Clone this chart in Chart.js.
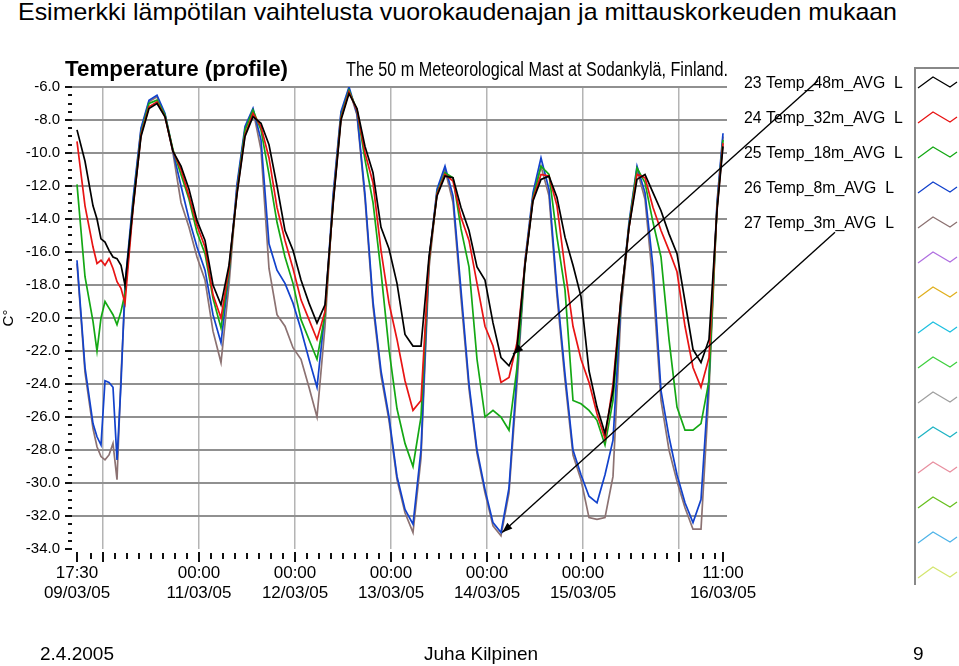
<!DOCTYPE html>
<html>
<head>
<meta charset="utf-8">
<script src="https://cdn.jsdelivr.net/npm/chart.js@4.4.1/dist/chart.umd.min.js"></script>
<style>
  html, body { margin: 0; padding: 0; background: #fff; }
  body { position: relative; width: 959px; height: 666px; overflow: hidden; font-family: 'Liberation Sans', Arial, sans-serif; color: #000; }
  #slideTitle { position: absolute; left: 18px; top: 0; font-size: 24px; line-height: 24px; white-space: nowrap; transform-origin: 0 0; }
  .foot { position: absolute; top: 644px; font-size: 19px; line-height: 19px; white-space: nowrap; }
  canvas { position: absolute; left: 0; top: 0; }
</style>
</head>
<body>
<div id="slideTitle">Esimerkki lämpötilan vaihtelusta vuorokaudenajan ja mittauskorkeuden mukaan</div>
<canvas id="chart" width="959" height="666"></canvas>
<div class="foot" style="left:40px">2.4.2005</div>
<div class="foot" style="left:424px">Juha Kilpinen</div>
<div class="foot" style="left:913px">9</div>
<script>
// hours since 17:30 09/03/05
const hours = [
  0, 2, 4, 5, 6, 7, 8, 9, 10, 11, 12, 14, 16, 18, 20, 22, 24, 26, 28, 30, 32, 34, 36, 38,
  40, 42, 44, 46, 48, 50, 52, 54, 56, 58, 60, 62, 64, 66, 68, 70, 72, 74, 76, 78,
  80, 82, 84, 86, 88, 90, 92, 94, 96, 98, 100, 102, 104, 106, 108, 110, 112, 114, 116, 118,
  120, 122, 124, 126, 128, 130, 132, 134, 136, 138, 140, 142, 144, 146, 148, 150, 152, 154, 156, 158,
  160, 161.5
]

const temp48m = [
  -8.6, -10.5, -13.2, -14.0, -15.2, -15.4, -15.9, -16.3, -16.4, -16.8, -18.0, -13.3, -9.0, -7.3, -7.0, -7.8, -9.9, -10.8, -12.2, -14.1, -15.3, -18.0, -19.2, -16.8,
  -12.5, -9.0, -7.8, -8.2, -9.5, -12.0, -14.7, -15.9, -17.7, -19.1, -20.3, -19.2, -13.2, -8.0, -6.4, -7.3, -9.6, -11.2, -14.5, -15.8,
  -17.9, -21.0, -21.7, -21.7, -16.3, -12.6, -11.4, -11.5, -13.3, -14.7, -16.9, -17.7, -20.3, -22.4, -22.9, -21.8, -16.8, -12.9, -11.6, -11.4,
  -12.7, -15.1, -16.8, -18.7, -23.2, -25.4, -27.0, -24.4, -18.8, -14.5, -11.6, -11.3, -12.4, -13.5, -14.9, -16.1, -19.0, -21.9, -22.7, -21.3,
  -13.5, -9.6
]
const temp32m = [
  -9.3, -13.2, -15.7, -16.7, -16.5, -16.8, -16.4, -17.0, -17.8, -18.2, -19.1, -13.4, -8.9, -7.2, -6.9, -7.8, -9.9, -11.0, -12.6, -14.4, -15.7, -18.6, -20.0, -17.0,
  -12.4, -8.9, -7.6, -8.4, -10.3, -13.3, -15.3, -17.0, -18.9, -20.1, -21.3, -19.6, -13.1, -7.9, -6.3, -7.4, -10.0, -11.8, -15.9, -19.1,
  -21.3, -23.8, -25.6, -25.0, -16.5, -12.5, -11.3, -11.7, -13.9, -15.3, -17.9, -20.5, -21.7, -23.9, -23.6, -21.5, -16.7, -12.8, -11.3, -11.4,
  -13.2, -17.0, -20.5, -22.5, -23.9, -25.8, -27.3, -24.0, -18.8, -14.5, -11.3, -11.5, -13.3, -14.7, -15.9, -17.2, -20.5, -23.0, -24.2, -22.4,
  -13.4, -9.4
]
const temp18m = [
  -11.9, -17.5, -20.2, -22.0, -20.0, -19.0, -19.4, -19.8, -20.4, -19.6, -18.5, -13.2, -8.8, -7.0, -6.8, -7.7, -9.8, -11.3, -12.8, -14.8, -16.1, -18.8, -20.6, -17.2,
  -12.3, -8.6, -7.4, -8.6, -11.3, -14.2, -16.3, -17.9, -20.1, -21.3, -22.5, -19.8, -13.0, -7.8, -6.2, -7.4, -10.4, -13.0, -17.2, -21.9,
  -25.5, -27.6, -29.0, -26.0, -16.6, -12.4, -11.2, -11.5, -14.6, -16.9, -22.5, -26.0, -25.6, -26.0, -26.8, -23.0, -16.7, -12.7, -10.8, -11.3,
  -15.1, -18.3, -25.0, -25.2, -25.6, -26.2, -27.7, -25.0, -18.9, -14.4, -10.9, -11.8, -14.2, -16.3, -21.3, -25.4, -26.8, -26.8, -26.4, -23.8,
  -13.3, -9.2
]
const temp8m = [
  -16.5, -23.0, -26.4, -27.2, -27.7, -23.8, -23.9, -24.2, -28.6, -24.0, -18.0, -12.8, -8.5, -6.8, -6.5, -7.6, -9.9, -12.0, -14.0, -15.7, -17.1, -19.8, -21.5, -17.3,
  -11.9, -8.4, -7.3, -9.2, -15.5, -17.1, -17.9, -19.1, -20.7, -22.5, -24.2, -19.6, -12.6, -7.5, -6.0, -7.6, -12.5, -19.0, -23.2, -26.0,
  -29.6, -31.6, -32.5, -28.0, -16.5, -12.2, -10.8, -12.6, -18.3, -24.0, -28.0, -30.4, -32.4, -33.0, -30.3, -23.3, -16.5, -12.4, -10.3, -12.2,
  -18.3, -23.4, -28.0, -29.5, -30.8, -31.2, -29.5, -27.4, -19.0, -14.2, -10.8, -12.4, -16.9, -24.4, -27.2, -29.5, -31.2, -32.4, -31.0, -23.6,
  -13.0, -8.8
]
const temp3m = [
  -16.7, -23.3, -26.7, -27.8, -28.4, -28.6, -28.3, -27.6, -29.8, -23.5, -18.6, -13.0, -8.6, -6.9, -6.6, -7.7, -10.0, -13.0, -14.5, -16.3, -17.7, -20.8, -22.7, -18.0,
  -12.1, -8.6, -7.4, -9.8, -17.0, -19.8, -20.5, -21.8, -22.5, -24.2, -26.0, -20.5, -12.8, -7.6, -6.1, -7.7, -12.8, -19.3, -23.5, -26.2,
  -29.8, -31.8, -33.0, -28.5, -17.0, -12.4, -11.0, -13.0, -18.8, -24.3, -28.2, -30.6, -32.6, -33.2, -30.6, -24.0, -16.8, -12.6, -10.8, -12.6,
  -18.7, -23.8, -28.3, -29.8, -32.1, -32.2, -32.1, -29.6, -19.5, -14.5, -11.0, -12.8, -17.9, -25.0, -28.0, -29.9, -31.5, -32.8, -32.8, -24.4,
  -13.2, -9.0
]

const seriesNames = ['23 Temp_48m_AVG', '24 Temp_32m_AVG', '25 Temp_18m_AVG', '26 Temp_8m_AVG', '27 Temp_3m_AVG']
const seriesData = [temp48m, temp32m, temp18m, temp8m, temp3m]
const seriesColors = ['#000000', '#e81414', '#14a814', '#1242cc', '#8c7272']
// unused plot slots shown in the right-hand legend strip
const spareColors = ['#b070e0', '#e0b020', '#20c0e0', '#40d040', '#a0a0a0', '#20b4c4', '#e890a0', '#68c020', '#50b4e8', '#d4e670']

const dayHours = [6.5, 30.5, 54.5, 78.5, 102.5, 126.5, 150.5]
const xTickHours = [0, 6.5, 30.5, 54.5, 78.5, 102.5, 126.5, 150.5, 161.5]
const xTickLabels = [
  ['17:30', '09/03/05'], '', ['00:00', '11/03/05'], ['00:00', '12/03/05'], ['00:00', '13/03/05'],
  ['00:00', '14/03/05'], ['00:00', '15/03/05'], '', ['11:00', '16/03/05'],
]

// annotation arrows, [hour, temp] from the legend to the curves
const arrows = [
  { from: [185.3, -5.6], to: [109.0, -22.2] },
  { from: [189.5, -14.8], to: [106.3, -33.0] },
]

const FONT = "'Liberation Sans', Arial, sans-serif"

function fitText(ctx, text, x, y, width) {
  const w = ctx.measureText(text).width
  ctx.save()
  ctx.translate(x, y)
  ctx.scale(width / w, 1)
  ctx.fillText(text, 0, 0)
  ctx.restore()
}

const headerText = {
  id: 'headerText',
  afterDraw(chart) {
    const ctx = chart.ctx
    ctx.save()
    ctx.fillStyle = '#000'
    ctx.textBaseline = 'alphabetic'
    ctx.font = `bold 22px ${FONT}`
    fitText(ctx, 'Temperature (profile)', 65, 76, 223)
    ctx.font = `20px ${FONT}`
    fitText(ctx, 'The 50 m Meteorological Mast at Sodankylä, Finland.', 346, 76, 382)
    ctx.restore()
  }
}

const axisMarks = {
  id: 'axisMarks',
  afterDraw(chart) {
    const { ctx, chartArea, scales: { x, y } } = chart
    ctx.save()
    ctx.strokeStyle = '#111'
    ctx.lineWidth = 2
    ctx.beginPath()
    for (let v = -34; v <= -6; v += 0.5) {
      const py = Math.round(y.getPixelForValue(v))
      const major = v % 2 === 0
      ctx.moveTo(chartArea.left - (major ? 7 : 4), py)
      ctx.lineTo(chartArea.left, py)
    }
    const b = chartArea.bottom
    const majors = [0, 161.5, ...dayHours]
    for (let h = 0.5; h < 161.5; h += 3) {
      if (h < 1 || majors.includes(h)) continue
      const px = Math.round(x.getPixelForValue(h))
      ctx.moveTo(px, b + 4)
      ctx.lineTo(px, b + 10)
    }
    majors.forEach(h => {
      const px = Math.round(x.getPixelForValue(h))
      ctx.moveTo(px, b + 3)
      ctx.lineTo(px, b + 13)
    })
    ctx.stroke()
    ctx.restore()
  }
}

const legendStrip = {
  id: 'legendStrip',
  afterDraw(chart) {
    const ctx = chart.ctx
    ctx.save()
    ctx.fillStyle = '#000'
    ctx.textBaseline = 'middle'
    ctx.font = `17px ${FONT}`
    chart.data.datasets.forEach((ds, i) => {
      const text = ds.label + '  L'
      const w = ctx.measureText(text).width
      fitText(ctx, text, 744, 83 + 35 * i, w * 0.93)
    })
    ctx.strokeStyle = '#888'
    ctx.lineWidth = 2
    ctx.beginPath()
    ctx.moveTo(959, 68)
    ctx.lineTo(915, 68)
    ctx.lineTo(915, 585)
    ctx.stroke()
    const colors = [...seriesColors, ...spareColors]
    ctx.lineWidth = 1.3
    colors.forEach((c, i) => {
      const cy = 83 + 35 * i
      ctx.strokeStyle = c
      ctx.beginPath()
      ctx.moveTo(918, cy + 5)
      ctx.lineTo(933, cy - 6)
      ctx.lineTo(950, cy + 4)
      ctx.lineTo(957, cy - 1)
      ctx.stroke()
    })
    ctx.restore()
  }
}

const arrowNotes = {
  id: 'arrowNotes',
  afterDraw(chart) {
    const { ctx, scales: { x, y } } = chart
    ctx.save()
    ctx.strokeStyle = '#000'
    ctx.lineWidth = 1.4
    arrows.forEach(a => {
      const x0 = x.getPixelForValue(a.from[0]), y0 = y.getPixelForValue(a.from[1])
      const x1 = x.getPixelForValue(a.to[0]), y1 = y.getPixelForValue(a.to[1])
      const ang = Math.atan2(y1 - y0, x1 - x0)
      ctx.beginPath()
      ctx.moveTo(x0, y0)
      ctx.lineTo(x1, y1)
      ctx.stroke()
      ctx.beginPath()
      ctx.moveTo(x1 - 11 * Math.cos(ang - 0.35), y1 - 11 * Math.sin(ang - 0.35))
      ctx.lineTo(x1, y1)
      ctx.lineTo(x1 - 11 * Math.cos(ang + 0.35), y1 - 11 * Math.sin(ang + 0.35))
      ctx.closePath()
      ctx.fillStyle = '#000'
      ctx.fill()
    })
    ctx.restore()
  }
}

new Chart(document.getElementById('chart'), {
  type: 'line',
  data: {
    datasets: seriesNames.map((name, i) => ({
      label: name,
      data: hours.map((h, j) => ({ x: h, y: seriesData[i][j] })),
      borderColor: seriesColors[i],
      backgroundColor: seriesColors[i],
      borderWidth: 1.7,
      pointRadius: 0,
      tension: 0,
      fill: false,
    })),
  },
  options: {
    responsive: false,
    animation: false,
    layout: { padding: { top: 87, right: 232, bottom: 57, left: 0 } },
    plugins: {
      legend: { display: false },
      tooltip: { enabled: false },
    },
    scales: {
      x: {
        type: 'linear',
        min: -1.25,
        max: 162.5,
        afterBuildTicks: s => { s.ticks = xTickHours.map(v => ({ value: v })) },
        afterFit: s => { s.height = 60 },
        border: { display: false },
        grid: {
          color: c => (c.tick && dayHours.includes(c.tick.value)) ? '#b4b4b4' : 'rgba(0,0,0,0)',
          lineWidth: 1.5,
          drawTicks: false,
        },
        ticks: {
          autoSkip: false,
          maxRotation: 0,
          padding: 14,
          color: '#000',
          font: { size: 17, family: FONT },
          callback: (v, i) => xTickLabels[i],
        },
      },
      y: {
        min: -34,
        max: -6,
        afterFit: s => { s.width = 72 },
        border: { display: false },
        grid: {
          color: c => (c.tick && c.tick.value === -34) ? 'rgba(0,0,0,0)' : '#909090',
          lineWidth: 2,
          drawTicks: false,
        },
        ticks: {
          stepSize: 2,
          padding: 12,
          color: '#000',
          font: { size: 15, family: FONT },
          callback: v => v.toFixed(1),
        },
        title: {
          display: true,
          text: 'C°',
          color: '#000',
          font: { size: 15, family: FONT },
          padding: 0,
        },
      },
    },
  },
  plugins: [headerText, axisMarks, legendStrip, arrowNotes],
})

const title = document.getElementById('slideTitle')
title.style.transform = `scaleX(${879 / title.getBoundingClientRect().width})`
</script>
</body>
</html>
